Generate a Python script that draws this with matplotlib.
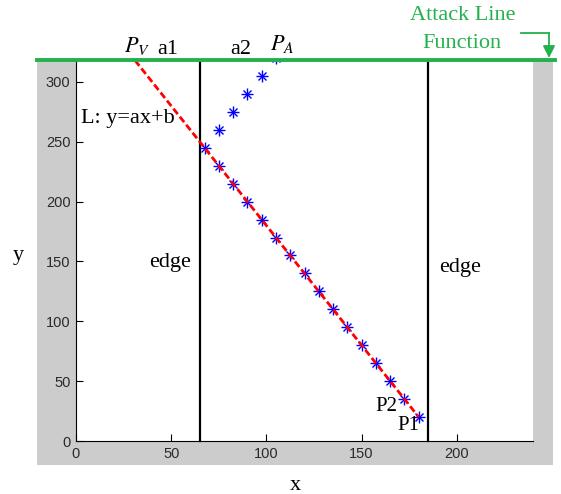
import matplotlib
matplotlib.use("Agg")
import matplotlib.pyplot as plt
from matplotlib.patches import Rectangle, FancyArrowPatch
from matplotlib.lines import Line2D

# data
line_pts_x = [67.5, 75, 82.5, 90, 97.5, 105, 112.5, 120, 127.5, 135, 142.5, 150, 157.5, 165, 172.5, 180]
line_pts_y = [245, 230, 215, 200, 185, 170, 155, 140, 125, 110, 95, 80, 65, 50, 35, 20]
attack_x = [75, 82.5, 90, 97.5, 105]
attack_y = [260, 275, 290, 305, 320]
fit_x = [31, 180]
fit_y = [318, 20]
edge_x = [65, 185]
xticks = [0, 50, 100, 150, 200]
yticks = [0, 50, 100, 150, 200, 250, 300]

W, H = 561, 494
GREEN = '#22b14c'
SERIF = ['Liberation Serif', 'DejaVu Serif']


def px(x, y):
    # pixel position (from top-left) -> figure fraction
    return x / W, 1 - y / H


def asterisk(xs, ys, **kw):
    # matlab style '*' marker = '+' and 'x' on top of each other
    ax.plot(xs, ys, '+', color='blue', ms=8, mew=1.0, ls='none', **kw)
    ax.plot(xs, ys, 'x', color='blue', ms=6, mew=1.0, ls='none', **kw)


fig = plt.figure(figsize=(W / 100, H / 100), dpi=100)
fig.patch.set_facecolor('white')

# grey matlab-like figure area
fig.add_artist(Rectangle(px(37, 465), (553 - 37) / W, (465 - 61) / H,
                         transform=fig.transFigure, facecolor='#cccccc',
                         edgecolor='none', zorder=-5))

ax = fig.add_axes([76 / W, 53 / H, (533 - 76) / W, (441 - 61) / H])
ax.set_zorder(1)
ax.set_xlim(0, 240)
ax.set_ylim(0, 317.5)
ax.spines['top'].set_visible(False)
ax.spines['right'].set_visible(False)
ax.set_xticks(xticks)
ax.set_yticks(yticks)
ax.tick_params(direction='in', length=5, labelsize=10.5, pad=4)
for lab in ax.get_xticklabels() + ax.get_yticklabels():
    lab.set_fontfamily('Liberation Sans')
    lab.set_color('#2a2a2a')

for ex in edge_x:
    ax.plot([ex, ex], [0, 317.5], color='black', lw=1.6, clip_on=False, zorder=2)

asterisk(line_pts_x, line_pts_y, zorder=3)
asterisk(attack_x, attack_y, zorder=3)
ax.plot(fit_x, fit_y, '--', color='red', lw=2, dashes=(2.5, 1.2), zorder=4, clip_on=False)

# attack line at the top
fig.add_artist(Line2D([37 / W, 555 / W], [1 - 60.5 / H] * 2, transform=fig.transFigure,
                      color=GREEN, lw=2.8, zorder=10))

tkw = dict(ha='center', va='center', fontfamily=SERIF, fontsize=16, zorder=11)
fig.text(*px(137, 46), r'$P_V$', ha='center', va='center', fontsize=16,
         math_fontfamily='stix')
fig.text(*px(168, 49), 'a1', **tkw)
fig.text(*px(241, 49), 'a2', **tkw)
fig.text(*px(282, 44), r'$P_A$', ha='center', va='center', fontsize=16,
         math_fontfamily='stix')
fig.text(*px(128, 119), 'L: y=ax+b', **tkw)
fig.text(*px(170, 262), 'edge', **tkw)
fig.text(*px(460, 267), 'edge', **tkw)
fig.text(*px(386, 406), 'P2', ha='center', va='center', fontfamily=SERIF, fontsize=15, zorder=11)
fig.text(*px(408, 425), 'P1', ha='center', va='center', fontfamily=SERIF, fontsize=15, zorder=11)
fig.text(*px(295, 485), 'x', **tkw)
fig.text(*px(18, 255), 'y', **tkw)

fig.text(*px(463, 16), 'Attack Line', color=GREEN, ha='center', va='center',
         fontfamily=SERIF, fontsize=16)
fig.text(*px(462, 43), 'Function', color=GREEN, ha='center', va='center',
         fontfamily=SERIF, fontsize=16)

# bent arrow pointing to the attack line
fig.add_artist(Line2D([521 / W, 549 / W], [1 - 33 / H] * 2, transform=fig.transFigure,
                      color=GREEN, lw=1.3))
fig.add_artist(FancyArrowPatch(px(549, 33), px(549, 58), transform=fig.transFigure,
                               arrowstyle='-|>', mutation_scale=18, color=GREEN, lw=1.3,
                               shrinkA=0, shrinkB=0))

fig.savefig('out.png', dpi=100)
